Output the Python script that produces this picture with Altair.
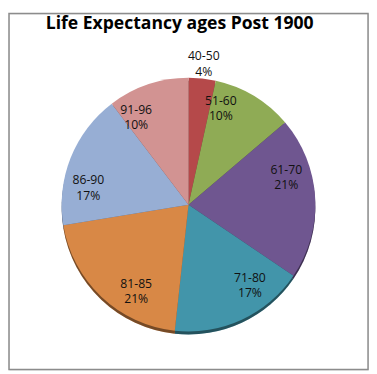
import altair as alt
import pandas as pd

ages = ["40-50", "51-60", "61-70", "71-80", "81-85", "86-90", "91-96"]
counts = [1, 3, 6, 5, 6, 5, 3]
pct_labels = ["4%", "10%", "21%", "17%", "21%", "17%", "10%"]
colors = ["#B5494A", "#8FAB55", "#6F5690", "#4295AA", "#D88846", "#97AED4", "#D29392"]

df = pd.DataFrame({
    "age": ages,
    "count": counts,
    "pct": pct_labels,
    "idx": list(range(len(ages))),
})

W, H = 368, 365
R = 130
YOFF = 13.5

base = alt.Chart(df).encode(
    theta=alt.Theta("count:Q", stack=True),
    order=alt.Order("idx:Q"),
)

color = alt.Color("age:N", scale=alt.Scale(domain=ages, range=colors), legend=None)

shadow = base.mark_arc(radius=R, yOffset=YOFF + 3).encode(color=color)
shadow_dark = base.mark_arc(radius=R, yOffset=YOFF + 3, fill="black", opacity=0.45)
pie = base.mark_arc(radius=R, yOffset=YOFF).encode(color=color)

txt = base.transform_calculate(
    line1="datum.age",
    line2="datum.pct",
)

def labels(flt, rad):
    t = txt.transform_filter(flt)
    a = t.mark_text(radius=rad, yOffset=YOFF - 8, font="Open Sans", fontSize=12.5,
                    color="#111", baseline="middle").encode(text="line1:N")
    b = t.mark_text(radius=rad, yOffset=YOFF + 8, font="Open Sans", fontSize=12.5,
                    color="#111", baseline="middle").encode(text="line2:N")
    return [a, b]

inner = labels("datum.count > 1", 104)
outer = labels("datum.count <= 1", 145)

border = alt.Chart(df).mark_rect(fill=None, stroke="#8C8C8C", strokeWidth=1.5).encode(
    x=alt.value(0), x2=alt.value(W), y=alt.value(0), y2=alt.value(H)
).transform_filter("datum.idx == 0")

chart = alt.layer(border, shadow, shadow_dark, pie, *inner, *outer).properties(
    width=W,
    height=H,
    padding=0,
    title=alt.TitleParams(
        "Life Expectancy  ages Post 1900",
        font="Open Sans", fontSize=18, fontWeight="bold", color="#000",
        anchor="middle", offset=-21, dx=-9,
    ),
).configure_view(stroke=None).configure(background="white")

chart.save("out.html", embed_options={"renderer": "svg", "actions": False})
